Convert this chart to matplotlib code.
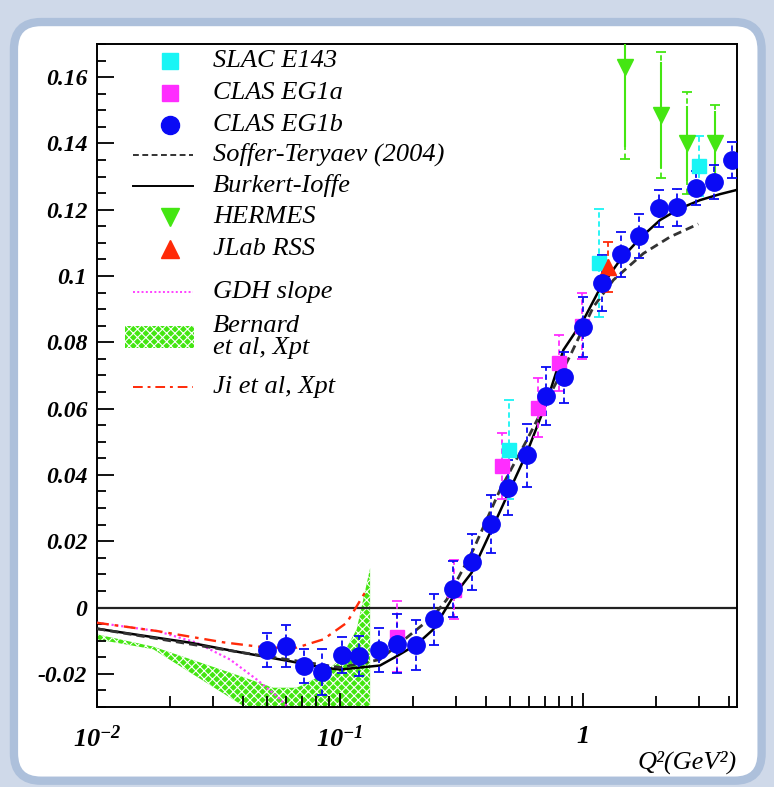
import numpy as np
import matplotlib
matplotlib.use('Agg')
import matplotlib.pyplot as plt
from matplotlib.patches import FancyBboxPatch, Rectangle
from matplotlib.ticker import FixedLocator, NullFormatter

plt.rcParams['font.family'] = ['Liberation Serif', 'DejaVu Serif']
plt.rcParams['font.style'] = 'italic'
plt.rcParams['mathtext.fontset'] = 'custom'
plt.rcParams['mathtext.rm'] = 'Liberation Serif:italic:bold'
plt.rcParams['mathtext.it'] = 'Liberation Serif:italic:bold'
plt.rcParams['mathtext.default'] = 'rm'
plt.rcParams['hatch.linewidth'] = 0.8

# ---- data ----
# CLAS EG1b
eg1b_q2 = [0.0499, 0.0598, 0.0711, 0.0846, 0.1016, 0.120, 0.1443, 0.171, 0.2055, 0.244,
           0.2927, 0.348, 0.417, 0.4928, 0.590, 0.704, 0.837, 0.997, 1.194, 1.429,
           1.70, 2.048, 2.43, 2.91, 3.46, 4.12]
eg1b_val = [-0.0127, -0.0117, -0.0177, -0.0195, -0.0144, -0.0147, -0.0129, -0.0109, -0.0114, -0.0036,
            0.0056, 0.0138, 0.0252, 0.0362, 0.0459, 0.0639, 0.0694, 0.0847, 0.0980, 0.1065,
            0.1121, 0.1204, 0.1207, 0.1266, 0.1284, 0.1349]
eg1b_err = [0.0051, 0.0063, 0.0051, 0.0069, 0.0054, 0.0060, 0.0066, 0.0090, 0.0075, 0.0078,
            0.0084, 0.0084, 0.0087, 0.0084, 0.0096, 0.0087, 0.0078, 0.0090, 0.0084, 0.0069,
            0.0066, 0.0057, 0.0057, 0.0051, 0.0051, 0.0054]

# CLAS EG1a
eg1a_q2 = [0.171, 0.295, 0.463, 0.655, 0.796, 0.988]
eg1a_val = [-0.0088, 0.0054, 0.0426, 0.0603, 0.0737, 0.0849]
eg1a_err = [0.0108, 0.0090, 0.0099, 0.0090, 0.0084, 0.0099]

# SLAC E143
e143_q2 = [0.4975, 1.167, 3.01]
e143_val = [0.0476, 0.1040, 0.1331]
e143_err = [0.0150, 0.0163, 0.0090]

# JLab RSS
rss_q2 = [1.27]
rss_val = [0.1028]
rss_err = [0.0075]

# HERMES
hermes_q2 = [1.49, 2.09, 2.68, 3.49]
hermes_val = [0.163, 0.1487, 0.140, 0.140]
hermes_stat = [0.024, 0.016, 0.0114, 0.0099]
hermes_sys = [0.0277, 0.019, 0.0154, 0.0117]

# Burkert-Ioffe
bi_q2 = [0.01, 0.0241, 0.0388, 0.0622, 0.0846, 0.1, 0.146, 0.171, 0.207, 0.242, 0.293, 0.348,
         0.4144, 0.4928, 0.5865, 0.709, 0.830, 1.003, 1.175, 1.419, 1.716, 2.075, 2.506, 3.03,
         3.66, 4.25]
bi_val = [-0.0064, -0.0106, -0.0135, -0.0162, -0.0181, -0.0187, -0.0175, -0.0147, -0.0111,
          -0.0066, 0.0034, 0.0105, 0.0225, 0.0345, 0.0466, 0.0621, 0.0777, 0.0867, 0.0963,
          0.1048, 0.1114, 0.1169, 0.1204, 0.1229, 0.1247, 0.1259]

# Soffer-Teryaev (2004)
st_q2 = [0.01, 0.0388, 0.1, 0.146, 0.188, 0.242, 0.275, 0.3537, 0.4554, 0.588, 0.731, 0.884,
         1.103, 1.333, 1.77, 2.28, 2.98]
st_val = [-0.0064, -0.0135, -0.0181, -0.0157, -0.0091, -0.0026, 0.0024, 0.0175, 0.0355,
          0.0506, 0.0642, 0.0759, 0.0907, 0.0988, 0.1068, 0.1118, 0.1157]

# GDH slope
gdh_q2 = [0.01, 0.0177, 0.0257, 0.0353, 0.0454, 0.0549, 0.0604]
gdh_val = [-0.0046, -0.0071, -0.0106, -0.0157, -0.0217, -0.0267, -0.0297]

# Ji et al, Xpt
ji_q2 = [0.01, 0.0177, 0.0331, 0.0499, 0.0664, 0.0854, 0.1066, 0.1288]
ji_val = [-0.0046, -0.0071, -0.0105, -0.0121, -0.0121, -0.0096, -0.0046, 0.0054]

# Bernard et al, Xpt band
bern_q2 = [0.01, 0.01705, 0.04, 0.0531, 0.0664, 0.0827, 0.1, 0.1171, 0.133]
bern_hi = [-0.0081, -0.0118, -0.0210, -0.0242, -0.0242, -0.0207, -0.0157, -0.0066, 0.0119]
bern_lo = [-0.0096, -0.0126, -0.0297, -0.0350, -0.0400, -0.0400, -0.0400, -0.0400, -0.0400]

yticks = [-0.02, 0.0, 0.02, 0.04, 0.06, 0.08, 0.10, 0.12, 0.14, 0.16]
ylabels = ['-0.02', '0', '0.02', '0.04', '0.06', '0.08', '0.1', '0.12', '0.14', '0.16']

legend_labels = ['SLAC E143', 'CLAS EG1a', 'CLAS EG1b', 'Soffer-Teryaev (2004)', 'Burkert-Ioffe',
                 'HERMES', 'JLab RSS', 'GDH slope', 'Bernard\net al, Xpt', 'Ji et al, Xpt']

c_cyan = '#19f5f5'
c_mag = '#ff2dff'
c_blue = '#0a0af5'
c_green = '#44e612'
c_red = '#ff2a08'

fig = plt.figure(figsize=(7.74, 7.87), dpi=100)
fig.patch.set_facecolor('#cfd9e9')
panel = FancyBboxPatch((0.018, 0.008), 0.966, 0.964,
                       boxstyle='round,pad=0,rounding_size=0.035',
                       transform=fig.transFigure, facecolor='white',
                       edgecolor='#adc0db', linewidth=6, zorder=-10)
fig.patches.append(panel)

ax = fig.add_axes([0.1253, 0.1017, 0.8269, 0.8424], zorder=1)
ax.set_xscale('log')
ax.set_xlim(0.01, 4.3)
ax.set_ylim(-0.03, 0.17)

# band and curves
ax.fill_between(bern_q2, bern_lo, bern_hi, facecolor=c_green, edgecolor='white',
                hatch='xxxx', linewidth=0, zorder=1)
ax.axhline(0, color='#222222', lw=1.6, zorder=2)
gdh_style = dict(ls=(0, (1, 1.2)), color='#ff40ff', lw=1.6)
ji_style = dict(ls=(0, (5, 2.5, 1.5, 2.5)), color=c_red, lw=1.7)
bi_style = dict(ls='-', color='black', lw=1.8)
st_style = dict(ls=(0, (3, 1.8)), color='#333333', lw=2.0)
ax.plot(gdh_q2, gdh_val, zorder=3, **gdh_style)
ax.plot(ji_q2, ji_val, zorder=3, **ji_style)
ax.plot(bi_q2, bi_val, zorder=3, **bi_style)
ax.plot(st_q2, st_val, zorder=3, **st_style)


def sys_bars(x, y, e, color, z):
    eb = ax.errorbar(x, y, yerr=e, fmt='none', ecolor=color, elinewidth=1.3,
                     capsize=3.5, capthick=1.3, zorder=z)
    eb[2][0].set_linestyle((0, (3, 2)))


sys_bars(e143_q2, e143_val, e143_err, c_cyan, 4)
sys_bars(eg1a_q2, eg1a_val, eg1a_err, c_mag, 4)
sys_bars(eg1b_q2, eg1b_val, eg1b_err, c_blue, 5)
sys_bars(rss_q2, rss_val, rss_err, c_red, 4)
sys_bars(hermes_q2, hermes_val, hermes_sys, c_green, 4)
ax.errorbar(hermes_q2, hermes_val, yerr=hermes_stat, fmt='none', ecolor=c_green,
            elinewidth=1.5, capsize=0, zorder=4)

ax.plot(e143_q2, e143_val, 's', color=c_cyan, ms=10, mec=c_cyan, zorder=6)
ax.plot(eg1a_q2, eg1a_val, 's', color=c_mag, ms=10, mec=c_mag, zorder=6)
ax.plot(rss_q2, rss_val, '^', color=c_red, ms=11, mec=c_red, zorder=6)
ax.plot(hermes_q2, hermes_val, 'v', color=c_green, ms=11, mec=c_green, zorder=6)
ax.plot(eg1b_q2, eg1b_val, 'o', color=c_blue, ms=12.5, mec=c_blue, zorder=7)

# ticks
for s in ax.spines.values():
    s.set_linewidth(1.4)
ax.yaxis.set_major_locator(FixedLocator(yticks))
ax.set_yticklabels(ylabels)
ax.yaxis.set_minor_locator(FixedLocator(np.arange(-0.03, 0.1701, 0.005)))
ax.xaxis.set_major_locator(FixedLocator([0.01, 0.1, 1]))
ax.set_xticklabels(['10$^{-2}$', '10$^{-1}$', '1'])
minor_x = [m * 10.0 ** d for d in (-2, -1, 0) for m in range(2, 10)]
ax.xaxis.set_minor_locator(FixedLocator(minor_x))
ax.xaxis.set_minor_formatter(NullFormatter())
ax.tick_params(axis='both', which='both', direction='in', top=False, right=False,
               width=1.3, colors='black')
ax.tick_params(axis='y', which='major', length=12, pad=7, labelsize=17)
ax.tick_params(axis='y', which='minor', length=6.5)
ax.tick_params(axis='x', which='major', length=10, pad=13, labelsize=19)
ax.tick_params(axis='x', which='minor', length=8)
for lab in ax.get_yticklabels():
    lab.set_fontweight('bold')
    lab.set_fontstyle('italic')
for lab in ax.get_xticklabels():
    lab.set_fontweight('bold')

ax.text(1.0, -0.083, 'Q²(GeV²)', transform=ax.transAxes, ha='right', va='center',
        fontsize=19, style='italic')

# legend, drawn by hand in axes coordinates to follow the uneven row spacing
row_y = [0.974, 0.926, 0.878, 0.833, 0.786, 0.739, 0.691, 0.626, 0.558, 0.483]
hx0, hx1, hmid, tx = 0.056, 0.150, 0.114, 0.181
tr = ax.transAxes
kinds = [('m', 's', c_cyan, 12), ('m', 's', c_mag, 12), ('m', 'o', c_blue, 13),
         ('l', st_style), ('l', bi_style), ('m', 'v', c_green, 13), ('m', '^', c_red, 13),
         ('l', gdh_style), ('p',), ('l', ji_style)]
for yy, kind, lab in zip(row_y, kinds, legend_labels):
    if kind[0] == 'm':
        ax.plot([hmid], [yy], ls='none', marker=kind[1], color=kind[2], ms=kind[3],
                transform=tr, clip_on=False, zorder=10)
    elif kind[0] == 'l':
        st = dict(kind[1])
        st['lw'] = 1.4
        ax.plot([hx0, hx1], [yy, yy], transform=tr, clip_on=False, zorder=10, **st)
    else:
        ax.add_patch(Rectangle((0.044, yy - 0.017), 0.108, 0.034, transform=tr,
                               facecolor=c_green, edgecolor='white', hatch='xxxx',
                               lw=0, zorder=10))
    ax.text(tx, yy, lab, transform=tr, ha='left', va='center', fontsize=19,
            linespacing=0.95, zorder=10)

fig.savefig('out.png', dpi=100)
